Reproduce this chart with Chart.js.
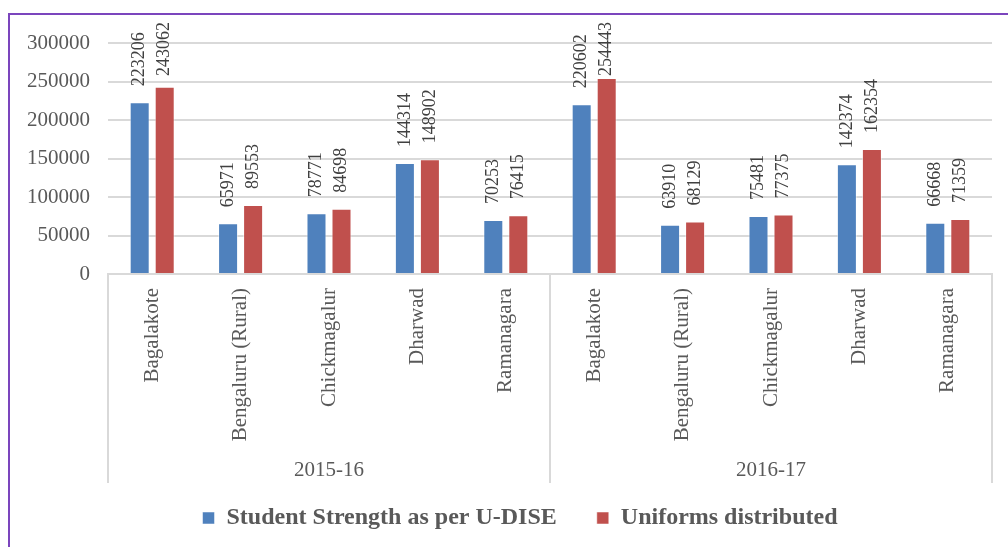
<!DOCTYPE html>
<html>
<head>
<meta charset="utf-8">
<script src="https://cdn.jsdelivr.net/npm/chart.js@4.4.0/dist/chart.umd.min.js"></script>
<style>
  html, body { margin: 0; padding: 0; background: #fff; overflow: hidden; }
  #frame { position: absolute; left: 8px; top: 13px; width: 1200px; height: 800px; border: 2px solid #7B45BD; }
  #wrap { position: absolute; left: 0; top: 0; width: 1008px; height: 547px; }
</style>
</head>
<body>
<div id="frame"></div>
<div id="wrap"><canvas id="uniformChart"></canvas></div>
<script>
// Data
const years = ['2015-16', '2016-17'];
const districts = ['Bagalakote', 'Bengaluru (Rural)', 'Chickmagalur', 'Dharwad', 'Ramanagara'];
const studentStrength = [223206, 65971, 78771, 144314, 70253, 220602, 63910, 75481, 142374, 66668];
const uniformsDistributed = [243062, 89553, 84698, 148902, 76415, 254443, 68129, 77375, 162354, 71359];
const yMax = 300000;
const yStep = 50000;

const FONT = '"Liberation Serif", "Times New Roman", serif';
const TEXT = '#595959';
const GRID = '#D9D9D9';

// value labels on top of every bar, rotated
const barLabels = {
    id: 'barLabels',
    afterDatasetsDraw(chart) {
        const ctx = chart.ctx;
        ctx.save();
        ctx.font = '18px ' + FONT;
        ctx.fillStyle = '#404040';
        chart.data.datasets.forEach((ds, i) => {
            chart.getDatasetMeta(i).data.forEach((bar, j) => {
                const txt = String(ds.data[j]);
                const w = ctx.measureText(txt).width;
                let y = bar.y - 16;
                if (y - w < 22) y = 22 + w;
                ctx.save();
                ctx.translate(bar.x, y);
                ctx.rotate(-Math.PI / 2);
                ctx.textAlign = 'left';
                ctx.textBaseline = 'middle';
                ctx.fillText(txt, 0, 0);
                ctx.restore();
            });
        });
        ctx.restore();
    }
};

// second level of the category axis (years) and its separators
const yearAxis = {
    id: 'yearAxis',
    afterLayout(chart) {
        // centre the legend under the plot like the original
        chart.legend.left += 19;
        chart.legend.right += 19;
    },
    afterDraw(chart) {
        const ctx = chart.ctx;
        const x = chart.scales.x;
        const area = chart.chartArea;
        const top = area.bottom;
        const bottom = area.bottom + 209;
        const n = districts.length;
        const seps = [area.left];
        for (let g = 1; g < years.length; g++) {
            seps.push((x.getPixelForValue(g * n - 1) + x.getPixelForValue(g * n)) / 2);
        }
        seps.push(area.right);
        ctx.save();
        ctx.strokeStyle = GRID;
        ctx.lineWidth = 2;
        seps.forEach(px => {
            ctx.beginPath();
            ctx.moveTo(px, top);
            ctx.lineTo(px, bottom);
            ctx.stroke();
        });
        ctx.font = '21px ' + FONT;
        ctx.fillStyle = TEXT;
        ctx.textAlign = 'center';
        ctx.textBaseline = 'middle';
        years.forEach((yr, g) => {
            const c = (x.getPixelForValue(g * n) + x.getPixelForValue(g * n + n - 1)) / 2;
            ctx.fillText(yr, c, top + 196);
        });
        ctx.restore();
    }
};

const ctx = document.getElementById('uniformChart').getContext('2d');
const uniformChart = new Chart(ctx, {
    type: 'bar',
    data: {
        labels: years.flatMap(() => districts),
        datasets: [{
            label: 'Student Strength as per U-DISE',
            data: studentStrength,
            backgroundColor: '#4F81BD',
            borderColor: 'rgba(255,255,255,0.5)',
            borderWidth: 1
        }, {
            label: 'Uniforms distributed',
            data: uniformsDistributed,
            backgroundColor: '#C0504D',
            borderColor: 'rgba(255,255,255,0.5)',
            borderWidth: 1
        }]
    },
    options: {
        responsive: true,
        maintainAspectRatio: false,
        animation: false,
        layout: {
            padding: { left: 10, right: 16, top: 43, bottom: 7 }
        },
        datasets: {
            bar: { categoryPercentage: 0.566, barPercentage: 0.8 }
        },
        scales: {
            x: {
                grid: { display: false, drawTicks: false },
                border: { display: true, color: GRID, width: 2 },
                ticks: {
                    autoSkip: false,
                    minRotation: 90,
                    maxRotation: 90,
                    padding: 14,
                    color: TEXT,
                    font: { family: FONT, size: 21 }
                },
                afterFit: s => { s.height = 192; }
            },
            y: {
                min: 0,
                max: yMax,
                grid: { color: GRID, lineWidth: 2, drawTicks: false },
                border: { display: false },
                ticks: {
                    stepSize: yStep,
                    padding: 18,
                    color: TEXT,
                    font: { family: FONT, size: 21 },
                    callback: v => String(v)
                },
                afterFit: s => { s.width = 98; }
            }
        },
        plugins: {
            legend: {
                position: 'bottom',
                labels: {
                    boxWidth: 12,
                    boxHeight: 12,
                    padding: 40,
                    color: TEXT,
                    font: { family: FONT, size: 24, weight: 'bold' }
                }
            },
            tooltip: { enabled: false }
        }
    },
    plugins: [barLabels, yearAxis]
});
</script>
</body>
</html>
